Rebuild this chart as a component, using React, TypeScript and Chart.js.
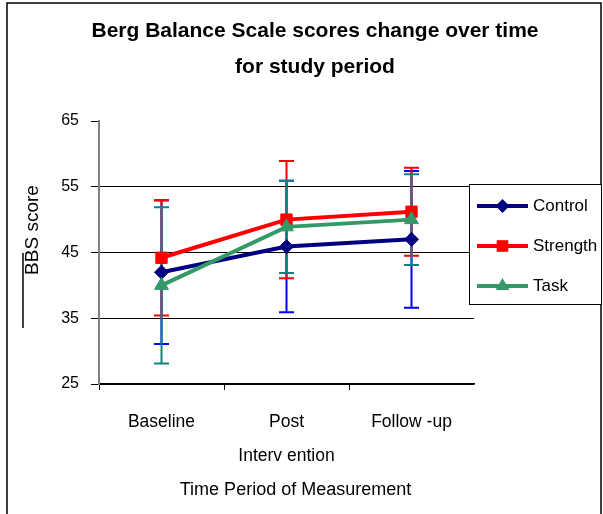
import React, { useEffect, useRef } from "react";
import { Chart, registerables } from "chart.js";

Chart.register(...registerables);

// ---- data ----
const categories: (string | string[])[] = ["Baseline", ["Post", "Interv ention"], "Follow -up"];
const seriesNames = ["Control", "Strength", "Task"];
const controlMean = [42.0, 45.9, 47.0];
const controlSd = [10.9, 10.0, 10.4];
const strengthMean = [44.2, 50.0, 51.2];
const strengthSd = [8.8, 8.9, 6.7];
const taskMean = [40.0, 48.9, 50.0];
const taskSd = [11.9, 7.0, 6.9];
const yTicks = [25, 35, 45, 55, 65];
const titleLines = ["Berg Balance Scale scores change over time", "for study period"];
const yTitle = "BBS score";
const xTitle = "Time Period of Measurement";

const FONT = "'Liberation Sans', Arial, sans-serif";
const lineColors = ["#000080", "#FF0000", "#339966"];
const errColors = ["#0000FF", "#FF0000", "#138080"];
const pointStyles = ["rectRot", "rect", "triangle"];
const sds = [controlSd, strengthSd, taskSd];

function drawMarker(ctx: CanvasRenderingContext2D, style: string, x: number, y: number, color: string) {
  ctx.save();
  ctx.fillStyle = color;
  ctx.beginPath();
  if (style === "rectRot") {
    const r = 7;
    ctx.moveTo(x, y - r);
    ctx.lineTo(x + r, y);
    ctx.lineTo(x, y + r);
    ctx.lineTo(x - r, y);
  } else if (style === "rect") {
    const h = 5.8;
    ctx.rect(x - h, y - h, 2 * h, 2 * h);
  } else {
    const r = 8;
    ctx.moveTo(x, y - r);
    ctx.lineTo(x + r * 0.866, y + r / 2);
    ctx.lineTo(x - r * 0.866, y + r / 2);
  }
  ctx.closePath();
  ctx.fill();
  ctx.restore();
}

const decorPlugin = {
  id: "decor",
  beforeDatasetsDraw(chart: any) {
    const ctx: CanvasRenderingContext2D = chart.ctx;
    const ys = chart.scales.y;
    chart.data.datasets.forEach((ds: any, i: number) => {
      const meta = chart.getDatasetMeta(i);
      const sd = sds[i];
      ctx.save();
      ctx.strokeStyle = errColors[i];
      ctx.lineWidth = 2;
      meta.data.forEach((pt: any, j: number) => {
        const m = ds.data[j];
        const x = pt.x;
        const yT = ys.getPixelForValue(m + sd[j]);
        const yB = ys.getPixelForValue(m - sd[j]);
        ctx.beginPath();
        ctx.moveTo(x, yT);
        ctx.lineTo(x, yB);
        ctx.moveTo(x - 7.5, yT);
        ctx.lineTo(x + 7.5, yT);
        ctx.moveTo(x - 7.5, yB);
        ctx.lineTo(x + 7.5, yB);
        ctx.stroke();
      });
      ctx.restore();
    });
  },
  afterDraw(chart: any) {
    const ctx: CanvasRenderingContext2D = chart.ctx;
    ctx.save();
    // outer border
    ctx.strokeStyle = "#000";
    ctx.lineWidth = 1.5;
    ctx.beginPath();
    ctx.moveTo(7, 520);
    ctx.lineTo(7, 3);
    ctx.lineTo(601, 3);
    ctx.lineTo(601, 520);
    ctx.stroke();

    // title
    ctx.fillStyle = "#000";
    ctx.font = `bold 21px ${FONT}`;
    ctx.textAlign = "center";
    ctx.textBaseline = "alphabetic";
    ctx.fillText(titleLines[0], 315, 37);
    ctx.fillText(titleLines[1], 315, 73);

    // y title
    ctx.save();
    ctx.translate(33, 230);
    ctx.rotate(-Math.PI / 2);
    ctx.font = `19px ${FONT}`;
    ctx.textBaseline = "middle";
    ctx.fillText(yTitle, 0, 0);
    ctx.restore();

    // stray line
    ctx.beginPath();
    ctx.lineWidth = 1.5;
    ctx.moveTo(23, 253);
    ctx.lineTo(23, 328);
    ctx.stroke();

    // x title
    ctx.font = `18px ${FONT}`;
    ctx.textBaseline = "middle";
    ctx.textAlign = "center";
    ctx.fillText(xTitle, 295.5, 490);

    // legend
    ctx.fillStyle = "#fff";
    ctx.fillRect(469, 184, 133, 120);
    ctx.strokeStyle = "#000";
    ctx.lineWidth = 1;
    ctx.strokeRect(469.5, 184.5, 132, 120);
    const ly = [206, 246, 286];
    seriesNames.forEach((name, i) => {
      ctx.strokeStyle = lineColors[i];
      ctx.lineWidth = 4;
      ctx.beginPath();
      ctx.moveTo(477, ly[i]);
      ctx.lineTo(528, ly[i]);
      ctx.stroke();
      drawMarker(ctx, pointStyles[i], 502.5, ly[i], lineColors[i]);
      ctx.fillStyle = "#000";
      ctx.font = `17px ${FONT}`;
      ctx.textAlign = "left";
      ctx.textBaseline = "middle";
      ctx.fillText(name, 533, ly[i]);
    });
    ctx.restore();
  },
};

export default function App() {
  const ref = useRef<HTMLCanvasElement | null>(null);
  useEffect(() => {
    if (!ref.current) return;
    const means = [controlMean, strengthMean, taskMean];
    const chart = new Chart(ref.current, {
      type: "line",
      data: {
        labels: categories as any,
        datasets: seriesNames.map((name, i) => ({
          label: name,
          data: means[i],
          borderColor: lineColors[i],
          backgroundColor: lineColors[i],
          pointBackgroundColor: lineColors[i],
          pointBorderColor: lineColors[i],
          borderWidth: 4,
          pointStyle: pointStyles[i] as any,
          pointRadius: i === 0 ? 7 : 8,
          pointBorderWidth: 1,
          tension: 0,
          fill: false,
          order: 3 - i,
        })),
      },
      options: {
        animation: false,
        responsive: false,
        devicePixelRatio: 1,
        layout: { padding: { top: 121, right: 129, left: 0, bottom: 0 } },
        plugins: {
          legend: { display: false },
          title: { display: false },
          tooltip: { enabled: false },
        },
        scales: {
          x: {
            type: "category",
            offset: true,
            grid: {
              display: true,
              drawOnChartArea: false,
              drawTicks: true,
              tickLength: 6,
              color: "#000",
              tickColor: (c: any) => (c.type === "tick" ? "#000" : "rgba(0,0,0,0)"),
              offset: true,
            },
            border: { display: true, color: "#000", width: 1.5 },
            ticks: {
              color: "#000",
              font: { family: FONT, size: 17.5, lineHeight: 1.9 },
              padding: 16,
              maxRotation: 0,
              autoSkip: false,
            },
            afterFit: (s: any) => {
              s.height = 130;
            },
          },
          y: {
            type: "linear",
            min: 25,
            max: 65,
            afterBuildTicks: (s: any) => {
              s.ticks = yTicks.map((v) => ({ value: v }));
            },
            grid: {
              color: (c: any) => (c.tick && c.tick.value === 65 ? "rgba(0,0,0,0)" : "#000"),
              tickColor: "#000",
              tickLength: 8,
              lineWidth: 1,
            },
            border: { display: true, color: "#808080", width: 2 },
            ticks: { color: "#000", font: { family: FONT, size: 16 }, padding: 12 },
            afterFit: (s: any) => {
              s.width = 99;
            },
          },
        },
      },
      plugins: [decorPlugin],
    });
    return () => chart.destroy();
  }, []);
  return (
    <div style={{ position: "absolute", left: 0, top: 0, width: 603, height: 514, background: "#fff" }}>
      <canvas ref={ref} width={603} height={514} style={{ width: 603, height: 514, display: "block" }} />
    </div>
  );
}
